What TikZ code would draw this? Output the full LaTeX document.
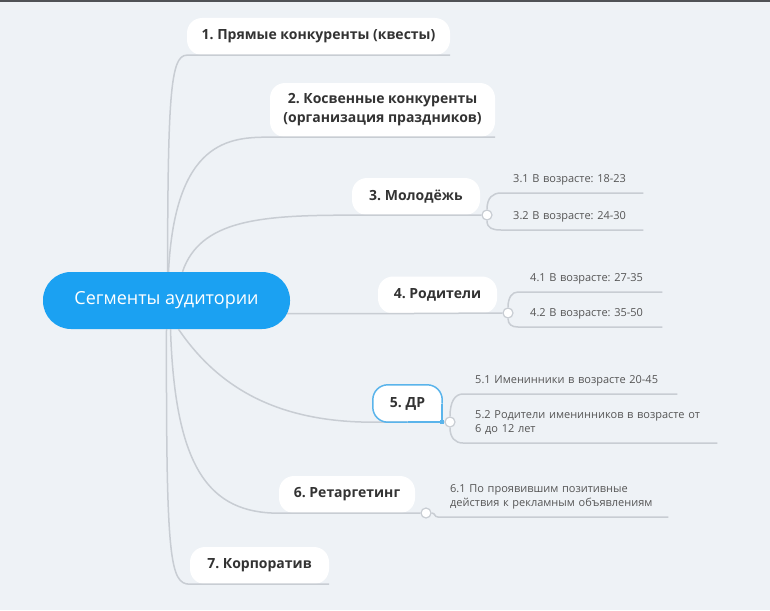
\documentclass[tikz,border=0pt]{standalone}
\usepackage{fontspec}
\setmainfont{Open Sans}
\usetikzlibrary{calc}
\frenchspacing
\definecolor{bgcol}{RGB}{238,242,246}
\definecolor{linecol}{RGB}{200,205,211}
\definecolor{rootcol}{RGB}{27,161,242}
\definecolor{topictext}{RGB}{51,51,51}
\definecolor{subtext}{RGB}{85,85,85}
\definecolor{selcol}{RGB}{90,180,235}
\definecolor{barcol}{RGB}{80,82,86}
\begin{document}
\begin{tikzpicture}[
                        x=1pt, y=-1pt,
                        root/.style={rectangle, rounded corners=28pt, fill=rootcol, text=white, font=\fontsize{18}{22}\selectfont, minimum width=247pt, minimum height=57pt, inner sep=0pt},
                        topic/.style={rectangle, rounded corners=15pt, fill=white, text=topictext, font=\fontsize{14}{19}\selectfont\bfseries, minimum height=37pt, inner sep=0pt, align=center},
                        subtopic/.style={anchor=south west, text=subtext, font=\fontsize{11}{14}\selectfont, inner xsep=12pt, inner ysep=8pt, align=left},
                        knot/.style={circle, draw=linecol, fill=white, line width=1.2pt, minimum size=10pt, inner sep=0pt},
                        branch/.style={draw=linecol, line width=1.5pt},
                        selborder/.style={draw=selcol, line width=1.5pt}
                    ]
                    \useasboundingbox (0,0) rectangle (770,610);
                    \fill [bgcol] (0,0) rectangle (770,610);
                    \fill [barcol] (0,0) rectangle (770,2);

                    % Blocks
                    \node [root] (root) at (166.5,300.5) {Сегменты аудитории};
                    \node [topic, minimum width=263pt] (n1) at (318.5,36.5) {1. Прямые конкуренты (квесты)};
                    \node [topic, minimum width=225pt, minimum height=54pt] (n2) at (382.5,110) {2. Косвенные конкуренты\\(организация праздников)};
                    \node [topic, minimum width=128pt] (n3) at (416,196.5) {3. Молодёжь};
                    \node [topic, minimum width=119pt] (n4) at (437.5,295) {4. Родители};
                    \node [topic, minimum width=69pt] (n5) at (407.5,403.5) {5. ДР};
                    \node [topic, minimum width=136pt] (n6) at (347,494.5) {6. Ретаргетинг};
                    \node [topic, minimum width=139pt] (n7) at (259.5,565.5) {7. Корпоратив};

                    \node [subtopic, text width=118pt] (s31) at (501,193) {3.1 В возрасте: 18-23};
                    \node [subtopic, text width=118pt] (s32) at (501,230) {3.2 В возрасте: 24-30};
                    \node [subtopic, text width=120pt] (s41) at (518,292) {4.1 В возрасте: 27-35};
                    \node [subtopic, text width=120pt] (s42) at (518,327) {4.2 В возрасте: 35-50};
                    \node [subtopic, text width=190pt] (s51) at (463,394) {5.1 Именинники в возрасте 20-45};
                    \node [subtopic, text width=230pt] (s52) at (463,443) {5.2 Родители именинников в возрасте от\\6 до 12 лет};
                    \node [subtopic, text width=206pt] (s61) at (438,517) {6.1 По проявившим позитивные\\действия к рекламным объявлениям};

                    \node [knot] (c3) at (487,215) {};
                    \node [knot] (c4) at (508,313) {};
                    \node [knot] (c5) at (450,422) {};
                    \node [knot] (c6) at (426,513) {};

                    % Connections
                    \draw [branch] ($(root.north)+(1,0)$) .. controls (168,100) and (170,55) .. (n1.south west) -- (n1.south east);
                    \draw [branch] ($(root.north)+(2,0)$) .. controls (175,140) and (230,137) .. (n2.south west) -- (n2.south east);
                    \draw [branch] ($(root.north)+(16,0)$) .. controls (200,220) and (260,215) .. (n3.south west) -- (c3.west);
                    \draw [branch] ($(root.east)+(-3,13)$) -- (n4.south west) -- (c4.west);
                    \draw [branch] ($(root.south)+(12,0)$) .. controls (220,390) and (280,422) .. (n5.south west) -- (c5.west);
                    \draw [branch] ($(root.south)+(4,0)$) .. controls (175,470) and (210,513) .. (n6.south west) -- (c6.west);
                    \draw [branch] (root.south) .. controls (166,560) and (170,584) .. (n7.south west) -- (n7.south east);

                    \draw [branch] (c3.north) .. controls +(0,-12) and +(-8,0) .. (s31.south west) -- (s31.south east);
                    \draw [branch] (c3.south) .. controls +(0,8) and +(-8,0) .. (s32.south west) -- (s32.south east);
                    \draw [branch] (c4.north) .. controls +(0,-10) and +(-6,0) .. (s41.south west) -- (s41.south east);
                    \draw [branch] (c4.south) .. controls +(0,6) and +(-6,0) .. (s42.south west) -- (s42.south east);
                    \draw [branch] (c5.north) .. controls +(0,-15) and +(-8,0) .. (s51.south west) -- (s51.south east);
                    \draw [branch] (c5.south) .. controls +(0,10) and +(-8,0) .. (s52.south west) -- (s52.south east);
                    \draw [branch] (c6.east) .. controls +(4,0) and +(-4,0) .. (s61.south west) -- (s61.south east);

                    % selected topic
                    \fill [white] ($(n5.south east)+(-12,-12)$) rectangle (n5.south east);
                    \draw [selborder, rounded corners=15pt] (n5.south) -- (n5.south west) -- (n5.north west) -- (n5.north east) -- (n5.east);
                    \draw [selborder] (n5.east) -- (n5.south east) -- (n5.south);
                    \fill [selcol] ($(n5.south east)+(-2,-2)$) rectangle +(4,4);
                \end{tikzpicture}
\end{document}
